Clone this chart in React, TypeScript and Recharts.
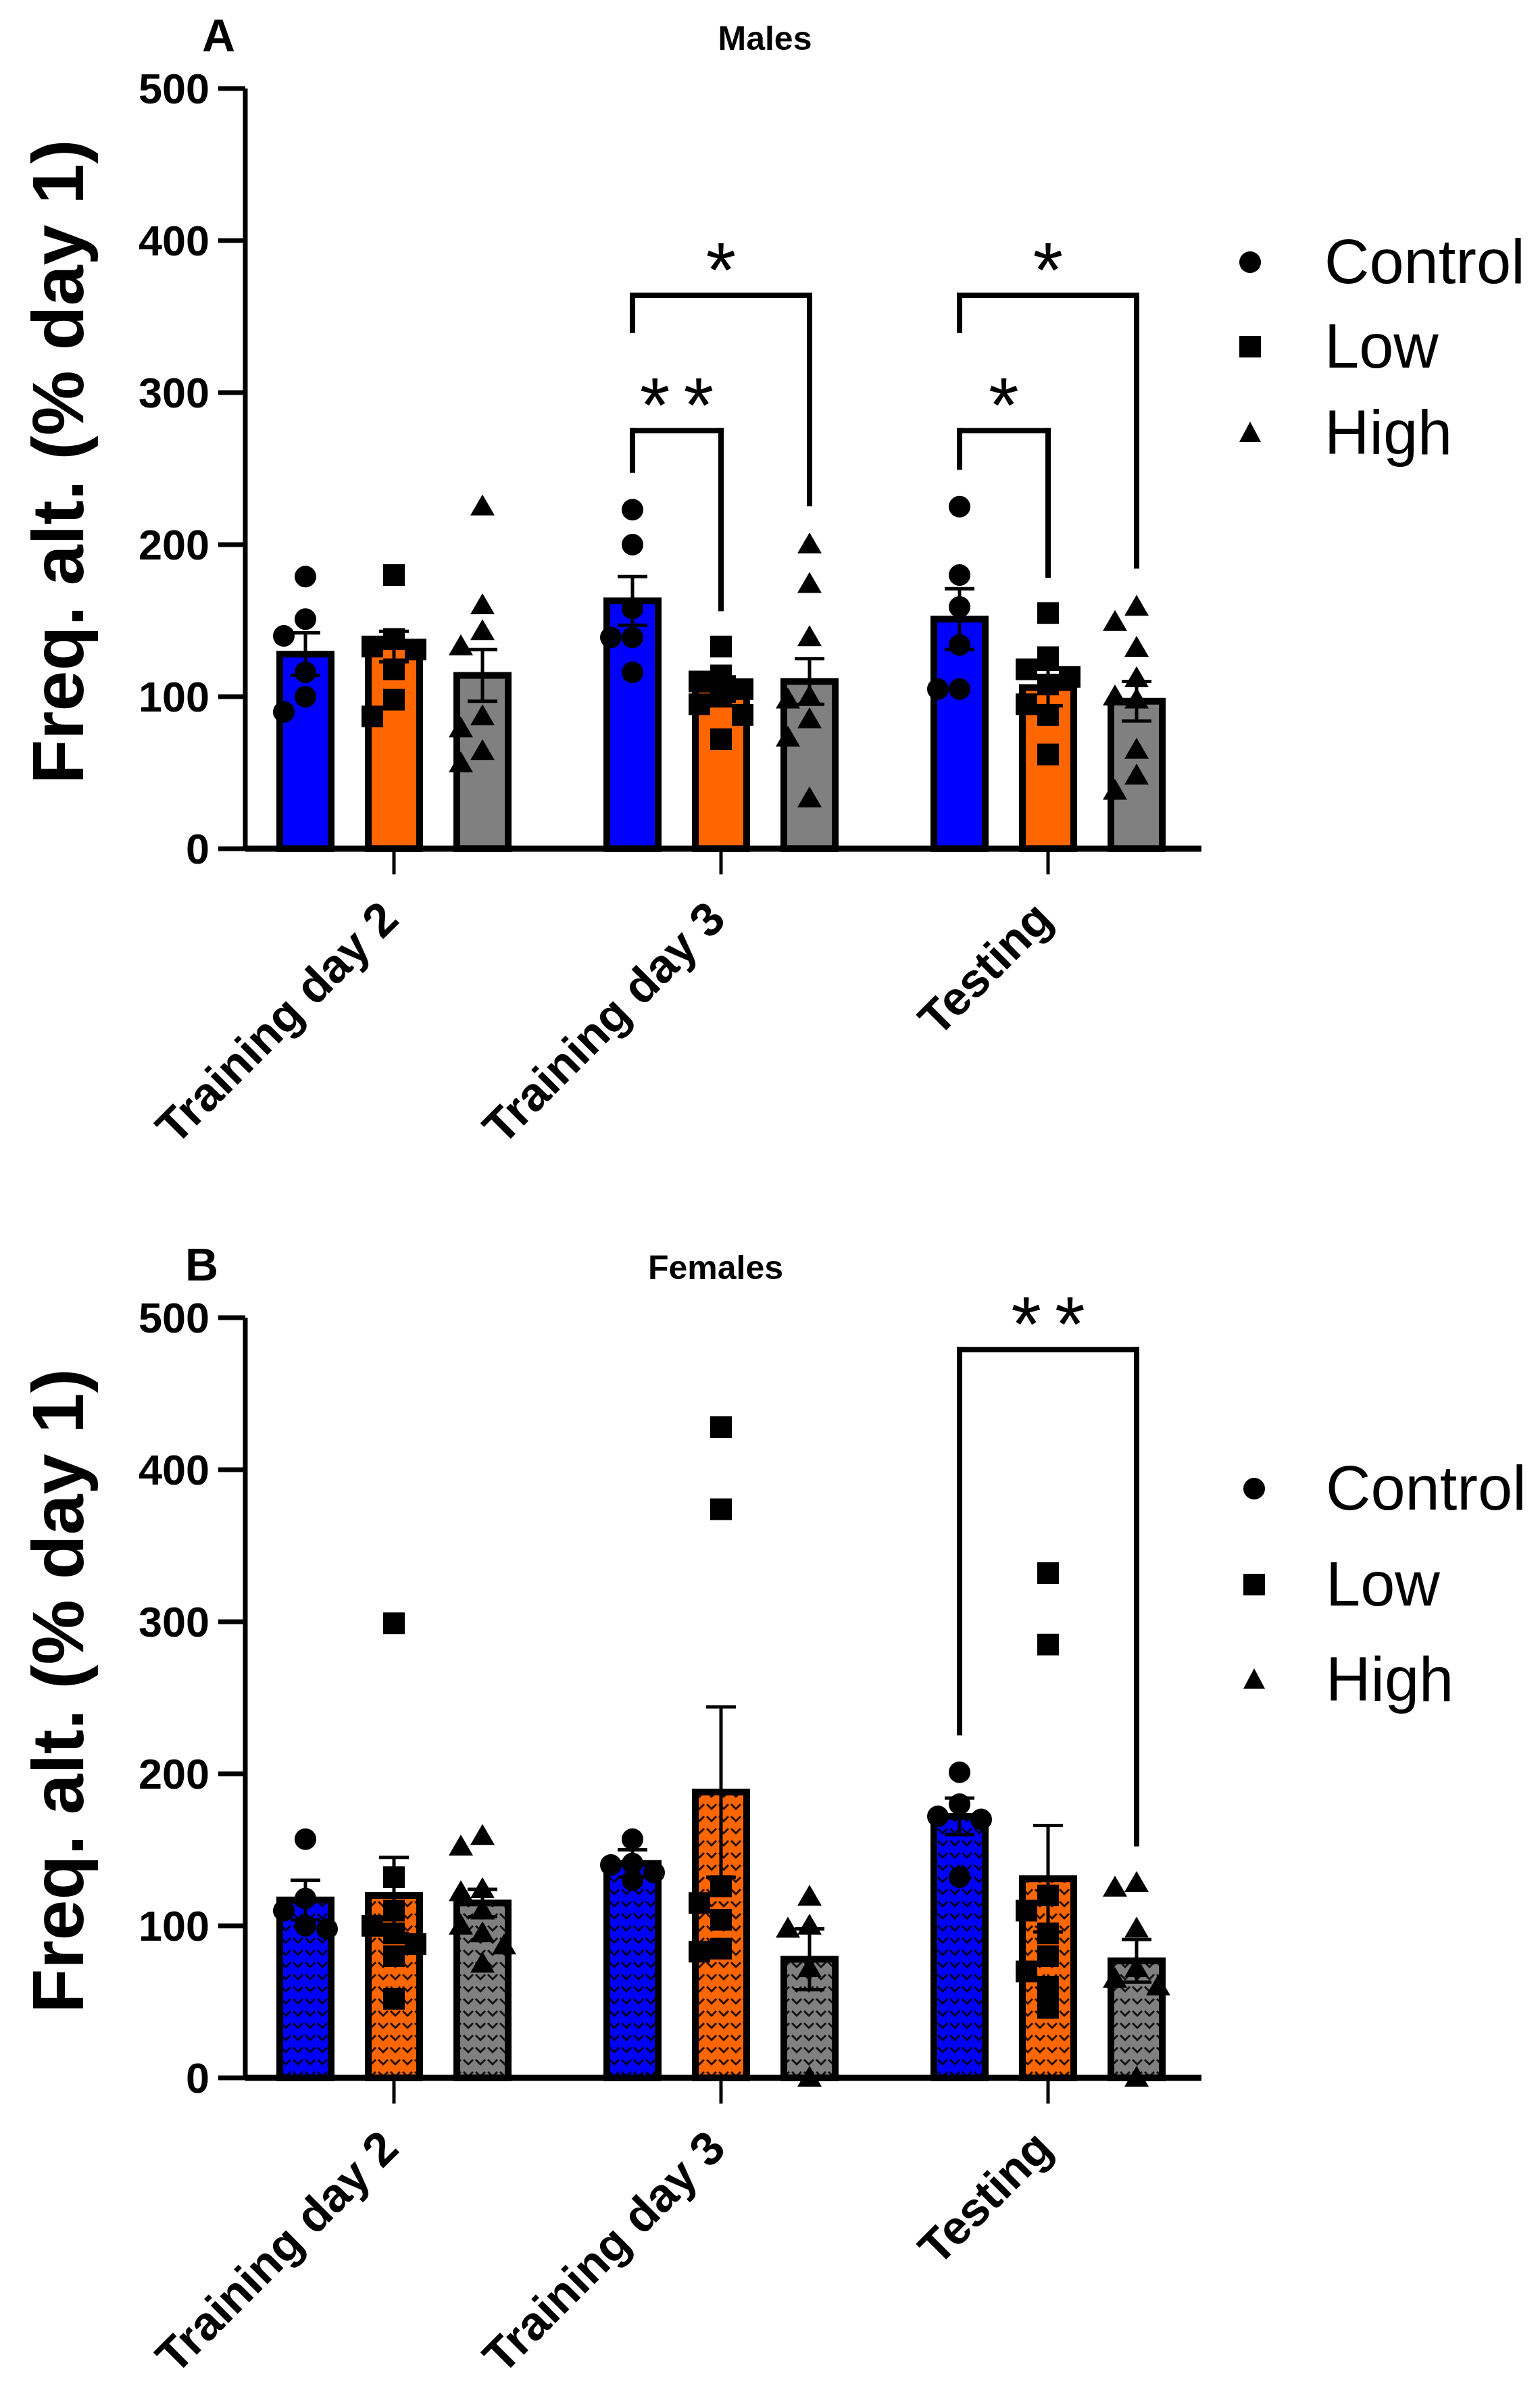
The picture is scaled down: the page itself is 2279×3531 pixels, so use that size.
import React from "react";
import {
  ComposedChart,
  Bar,
  Scatter,
  XAxis,
  YAxis,
  ErrorBar,
  ReferenceLine
} from "recharts";

const FONT = '"Liberation Sans", Arial, sans-serif';

const categories = ["Training day 2", "Training day 3", "Testing"];
const groups = ["Control", "Low", "High"];
const yTicks = [0, 100, 200, 300, 400, 500];

// Males: bar means, SEM and individual animals
const controlMeanM = [128, 163, 151];
const lowMeanM = [133, 105, 106];
const highMeanM = [114, 110, 97];
const controlSemM = [14, 16, 20];
const lowSemM = [10, 8, 12];
const highSemM = [17, 15, 13];
const controlPtsM = [
  [179, 151, 140, 116, 100, 90],
  [223, 200, 158, 139, 139, 116],
  [225, 180, 159, 134, 105, 105]
];
const lowPtsM = [
  [180, 138, 133, 131, 118, 98, 87],
  [133, 114, 110, 105, 100, 95, 88, 72],
  [155, 126, 118, 113, 108, 95, 88, 62]
];
const highPtsM = [
  [225, 160, 143, 133, 87, 79, 64, 56],
  [200, 174, 139, 100, 98, 85, 73, 33],
  [159, 149, 132, 112, 100, 98, 65, 48, 38]
];

// Females
const controlMeanF = [117, 141, 172];
const lowMeanF = [120, 188, 131];
const highMeanF = [115, 78, 77];
const controlSemF = [13, 9, 12];
const lowSemF = [25, 56, 35];
const highSemF = [9, 20, 14];
const controlPtsF = [
  [157, 118, 110, 100, 98],
  [157, 141, 140, 135, 130],
  [201, 180, 172, 170, 132]
];
const lowPtsF = [
  [299, 132, 110, 100, 95, 88, 80, 52],
  [428, 374, 126, 115, 104, 85, 83],
  [332, 285, 120, 110, 95, 80, 70, 60, 46]
];
const highPtsF = [
  [159, 152, 124, 122, 110, 100, 95, 87, 75],
  [119, 100, 98, 72, 0],
  [128, 125, 98, 72, 65, 60, 0]
];

// significance brackets: category, the two groups, bracket top and leg ends (data units)
const bracketsM = [
  { cat: 1, from: 0, to: 1, top: 275, left: 249, right: 158, mark: "**" },
  { cat: 1, from: 0, to: 2, top: 364, left: 341, right: 227, mark: "*" },
  { cat: 2, from: 0, to: 1, top: 275, left: 251, right: 180, mark: "*" },
  { cat: 2, from: 0, to: 2, top: 364, left: 341, right: 186, mark: "*" }
];
const bracketsF = [
  { cat: 2, from: 0, to: 2, top: 479, left: 227, right: 154, mark: "**" }
];

const colors = ["#0000FF", "#FF6600", "#808080"];
const keys = ["control", "low", "high"];

// layout constants
const BAND = 484;
const BAR = 76;
const BAR_GAP = 55;
const BAR_OFFSET = (BAR + BAR_GAP) / BAND;
const JITTER = 32 / BAND;

const spread = (values: number[]) => {
  const placed: { v: number; c: number }[] = [];
  return values.map((v) => {
    for (const c of [0, -1, 1]) {
      if (!placed.some((p) => p.c === c && Math.abs(p.v - v) < 14)) {
        placed.push({ v, c });
        return c;
      }
    }
    placed.push({ v, c: 0 });
    return 0;
  });
};

const buildRows = (means: number[][], sems: number[][]) =>
  categories.map((name, i) => ({
    name,
    control: means[0][i],
    low: means[1][i],
    high: means[2][i],
    controlSem: sems[0][i],
    lowSem: sems[1][i],
    highSem: sems[2][i]
  }));

const buildPoints = (pts: number[][], g: number) =>
  pts.flatMap((vals, i) => {
    const cols = spread(vals);
    return vals.map((v, k) => ({
      x: i + 0.5 + (g - 1) * BAR_OFFSET + cols[k] * JITTER,
      y: v
    }));
  });

const markerShape = (g: number) => (props: any) => {
  const { cx, cy } = props;
  if (cx == null || cy == null) return <g />;
  if (g === 0) return <circle cx={cx} cy={cy} r={16} fill="#000" />;
  if (g === 1) return <rect x={cx - 16} y={cy - 16} width={32} height={32} fill="#000" />;
  return (
    <polygon
      points={`${cx},${cy - 18} ${cx + 18},${cy + 13} ${cx - 18},${cy + 13}`}
      fill="#000"
    />
  );
};

const LegendMarker = ({ g, x, y }: { g: number; x: number; y: number }) => {
  if (g === 0) return <circle cx={x} cy={y} r={16} fill="#000" />;
  if (g === 1) return <rect x={x - 16} y={y - 16} width={32} height={32} fill="#000" />;
  return <polygon points={`${x},${y - 17} ${x + 16},${y + 13} ${x - 16},${y + 13}`} fill="#000" />;
};

const StarLabel = (props: any) => {
  const vb = props.viewBox || {};
  const cx = (vb.x || 0) + (vb.width || 0) / 2;
  const spacing = props.mark.length > 1 ? 20 : 0;
  return (
    <text
      x={cx + spacing / 2}
      y={(vb.y || 0) + 2}
      textAnchor="middle"
      fontFamily={FONT}
      fontSize={115}
      letterSpacing={spacing}
      fill="#000"
    >
      {props.mark}
    </text>
  );
};

const YLabel = (props: any) => {
  const vb = props.viewBox || {};
  const cx = vb.x - 28;
  const cy = vb.y + vb.height / 2 - 10;
  return (
    <text
      x={cx}
      y={cy}
      transform={`rotate(-90, ${cx}, ${cy})`}
      textAnchor="middle"
      dominantBaseline="central"
      fontFamily={FONT}
      fontWeight="bold"
      fontSize={108}
      fill="#000"
    >
      Freq. alt. (% day 1)
    </text>
  );
};

const XTick = (props: any) => {
  const { x, y, payload } = props;
  return (
    <g transform={`translate(${x + 10},${y + 68})`}>
      <text
        transform="rotate(-45)"
        textAnchor="end"
        fontFamily={FONT}
        fontWeight="bold"
        fontSize={70}
        fill="#000"
      >
        {payload.value}
      </text>
    </g>
  );
};

type PanelProps = {
  top: number;
  letter: string;
  letterX: number;
  title: string;
  titleX: number;
  means: number[][];
  sems: number[][];
  points: number[][][];
  brackets: typeof bracketsM;
  patterned: boolean;
  legendX: number;
  legendTextX: number;
  legendY: number[];
};

const Panel = (p: PanelProps) => {
  const rows = buildRows(p.means, p.sems);
  return (
    <div style={{ position: "absolute", left: 0, top: p.top, width: 2279, height: 1712 }}>
      <ComposedChart
        width={2279}
        height={1712}
        data={rows}
        barSize={BAR}
        barGap={BAR_GAP}
        margin={{ top: 131, right: 501, left: 113, bottom: 16 }}
      >
        <XAxis
          dataKey="name"
          height={440}
          padding={{ left: -22, right: -15 }}
          axisLine={{ stroke: "#000", strokeWidth: 9 }}
          tickLine={{ stroke: "#000", strokeWidth: 5 }}
          tickSize={38}
          tick={<XTick />}
          interval={0}
        />
        <XAxis
          xAxisId="num"
          dataKey="x"
          type="number"
          domain={[0, 3]}
          padding={{ left: -22, right: -15 }}
          hide
        />
        <YAxis
          width={250}
          domain={[0, 500]}
          ticks={yTicks}
          interval={0}
          tickSize={40}
          tickMargin={13}
          axisLine={{ stroke: "#000", strokeWidth: 7 }}
          tickLine={{ stroke: "#000", strokeWidth: 7 }}
          tick={{ fontSize: 63, fontWeight: "bold", fill: "#000", fontFamily: FONT }}
          label={<YLabel />}
        />
        {keys.map((k, g) => (
          <Bar
            key={k}
            dataKey={k}
            name={groups[g]}
            fill={p.patterned ? `url(#zz-${k})` : colors[g]}
            stroke="#000"
            strokeWidth={10}
            isAnimationActive={false}
          >
            <ErrorBar dataKey={`${k}Sem`} width={22} stroke="#000" strokeWidth={5} direction="y" />
          </Bar>
        ))}
        {keys.map((k, g) => (
          <Scatter
            key={`pts-${k}`}
            xAxisId="num"
            data={buildPoints(p.points[g], g)}
            dataKey="y"
            name={groups[g]}
            shape={markerShape(g)}
            isAnimationActive={false}
          />
        ))}
        {p.brackets.flatMap((b, i) => {
          const x1 = b.cat + 0.5 + (b.from - 1) * BAR_OFFSET;
          const x2 = b.cat + 0.5 + (b.to - 1) * BAR_OFFSET;
          const line = { xAxisId: "num", stroke: "#000", strokeWidth: 8, strokeLinecap: "square" as const };
          return [
            <ReferenceLine
              key={`top${i}`}
              {...line}
              segment={[{ x: x1, y: b.top }, { x: x2, y: b.top }]}
              label={<StarLabel mark={b.mark} />}
            />,
            <ReferenceLine key={`l${i}`} {...line} segment={[{ x: x1, y: b.top }, { x: x1, y: b.left }]} />,
            <ReferenceLine key={`r${i}`} {...line} segment={[{ x: x2, y: b.top }, { x: x2, y: b.right }]} />
          ];
        })}
      </ComposedChart>
      <svg
        width={2279}
        height={1712}
        style={{ position: "absolute", left: 0, top: 0, pointerEvents: "none" }}
      >
        <text x={p.letterX} y={76} fontFamily={FONT} fontWeight="bold" fontSize={68} fill="#000">
          {p.letter}
        </text>
        <text x={p.titleX} y={74} textAnchor="middle" fontFamily={FONT} fontWeight="bold" fontSize={50} fill="#000">
          {p.title}
        </text>
        {groups.map((name, g) => (
          <g key={name}>
            <LegendMarker g={g} x={p.legendX} y={p.legendY[g]} />
            <text x={p.legendTextX} y={p.legendY[g] + 31} fontFamily={FONT} fontSize={92} fill="#000">
              {name}
            </text>
          </g>
        ))}
      </svg>
    </div>
  );
};

const patternDefs = keys.map((k, g) => (
  <pattern key={k} id={`zz-${k}`} patternUnits="userSpaceOnUse" width={18} height={18}>
    <rect width={18} height={18} fill={colors[g]} />
    <path d="M2,5 L9,12 L16,5" fill="none" stroke="#000" strokeOpacity={0.85} strokeWidth={3} />
  </pattern>
));

const App: React.FC = () => {
  return (
    <div style={{ position: "relative", width: 2279, height: 3531, background: "#fff" }}>
      <style>{"body{margin:0;}"}</style>
      <svg width={0} height={0} style={{ position: "absolute" }}>
        <defs>{patternDefs}</defs>
      </svg>
      <Panel
        top={0}
        letter="A"
        letterX={299}
        title="Males"
        titleX={1132}
        means={[controlMeanM, lowMeanM, highMeanM]}
        sems={[controlSemM, lowSemM, highSemM]}
        points={[controlPtsM, lowPtsM, highPtsM]}
        brackets={bracketsM}
        patterned={false}
        legendX={1850}
        legendTextX={1960}
        legendY={[388, 513, 641]}
      />
      <Panel
        top={1819}
        letter="B"
        letterX={274}
        title="Females"
        titleX={1059}
        means={[controlMeanF, lowMeanF, highMeanF]}
        sems={[controlSemF, lowSemF, highSemF]}
        points={[controlPtsF, lowPtsF, highPtsF]}
        brackets={bracketsF}
        patterned={true}
        legendX={1856}
        legendTextX={1962}
        legendY={[384, 526, 667]}
      />
    </div>
  );
};

export default App;
